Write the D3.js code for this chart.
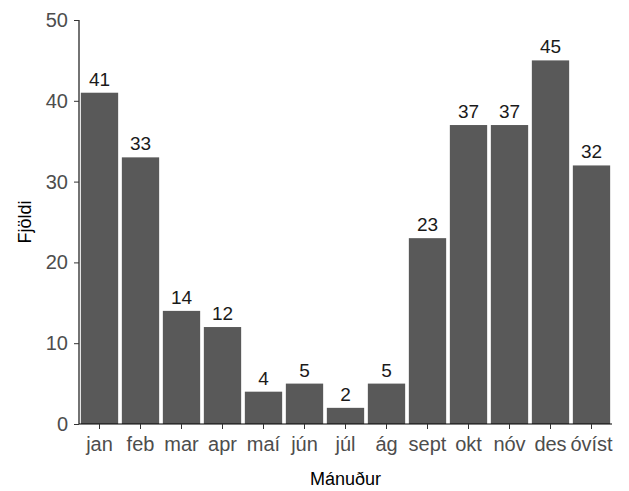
<!DOCTYPE html>
<html><head><meta charset="utf-8">
<script src="https://cdn.jsdelivr.net/npm/d3@7"></script>
<style>body{margin:0;background:#fff;} svg{display:block;font-family:"Liberation Sans",Arial,sans-serif;}</style>
</head><body><svg id="c" width="629" height="491"></svg>
<script>
const months = ["jan","feb","mar","apr","maí","jún","júl","ág","sept","okt","nóv","des","óvíst"];
const counts = [41,33,14,12,4,5,2,5,23,37,37,45,32];
const yTicks = [0,10,20,30,40,50];

const svg = d3.select("#c");
const m = {l:79, r:612, t:20, b:424};
const x = d3.scaleBand().domain(months).range([m.l, m.r]).paddingInner(0.09).paddingOuter(0.045);
const y = d3.scaleLinear().domain([0,50]).range([m.b, m.t]);

svg.append("g").selectAll("rect").data(months).join("rect")
  .attr("x", d=>x(d)).attr("width", x.bandwidth())
  .attr("y", (d,i)=>y(counts[i])).attr("height", (d,i)=>y(0)-y(counts[i]))
  .attr("fill","#595959");

svg.append("g").selectAll("text").data(months).join("text")
  .attr("x", d=>x(d)+x.bandwidth()/2).attr("y", (d,i)=>y(counts[i])-7)
  .attr("text-anchor","middle").attr("font-size",19).attr("fill","#1a1a1a")
  .text((d,i)=>counts[i]);

const yAxis = svg.append("g").attr("transform",`translate(${m.l},0)`)
  .call(d3.axisLeft(y).tickValues(yTicks).tickSize(5).tickPadding(6));
const xAxis = svg.append("g").attr("transform",`translate(0,${m.b})`)
  .call(d3.axisBottom(x).tickSize(5).tickPadding(8));
[yAxis,xAxis].forEach(a=>{
  a.select(".domain").attr("stroke","#000").attr("stroke-width",1.1);
  a.selectAll(".tick line").attr("stroke","#333");
  a.selectAll(".tick text").attr("font-size",20).attr("fill","#4d4d4d").attr("font-family","Liberation Sans, Arial, sans-serif");
});
yAxis.select(".domain").attr("d",`M0,${m.b}H0V${m.t}`);
xAxis.select(".domain").attr("d",`M${m.l},0H${m.r}`);

svg.append("text").attr("x",(m.l+m.r)/2).attr("y",485).attr("text-anchor","middle")
  .attr("font-size",18).attr("fill","#000").text("Mánuður");
svg.append("text").attr("transform",`translate(31,${(m.t+m.b)/2}) rotate(-90)`).attr("text-anchor","middle")
  .attr("font-size",18).attr("fill","#000").text("Fjöldi");
</script></body></html>
